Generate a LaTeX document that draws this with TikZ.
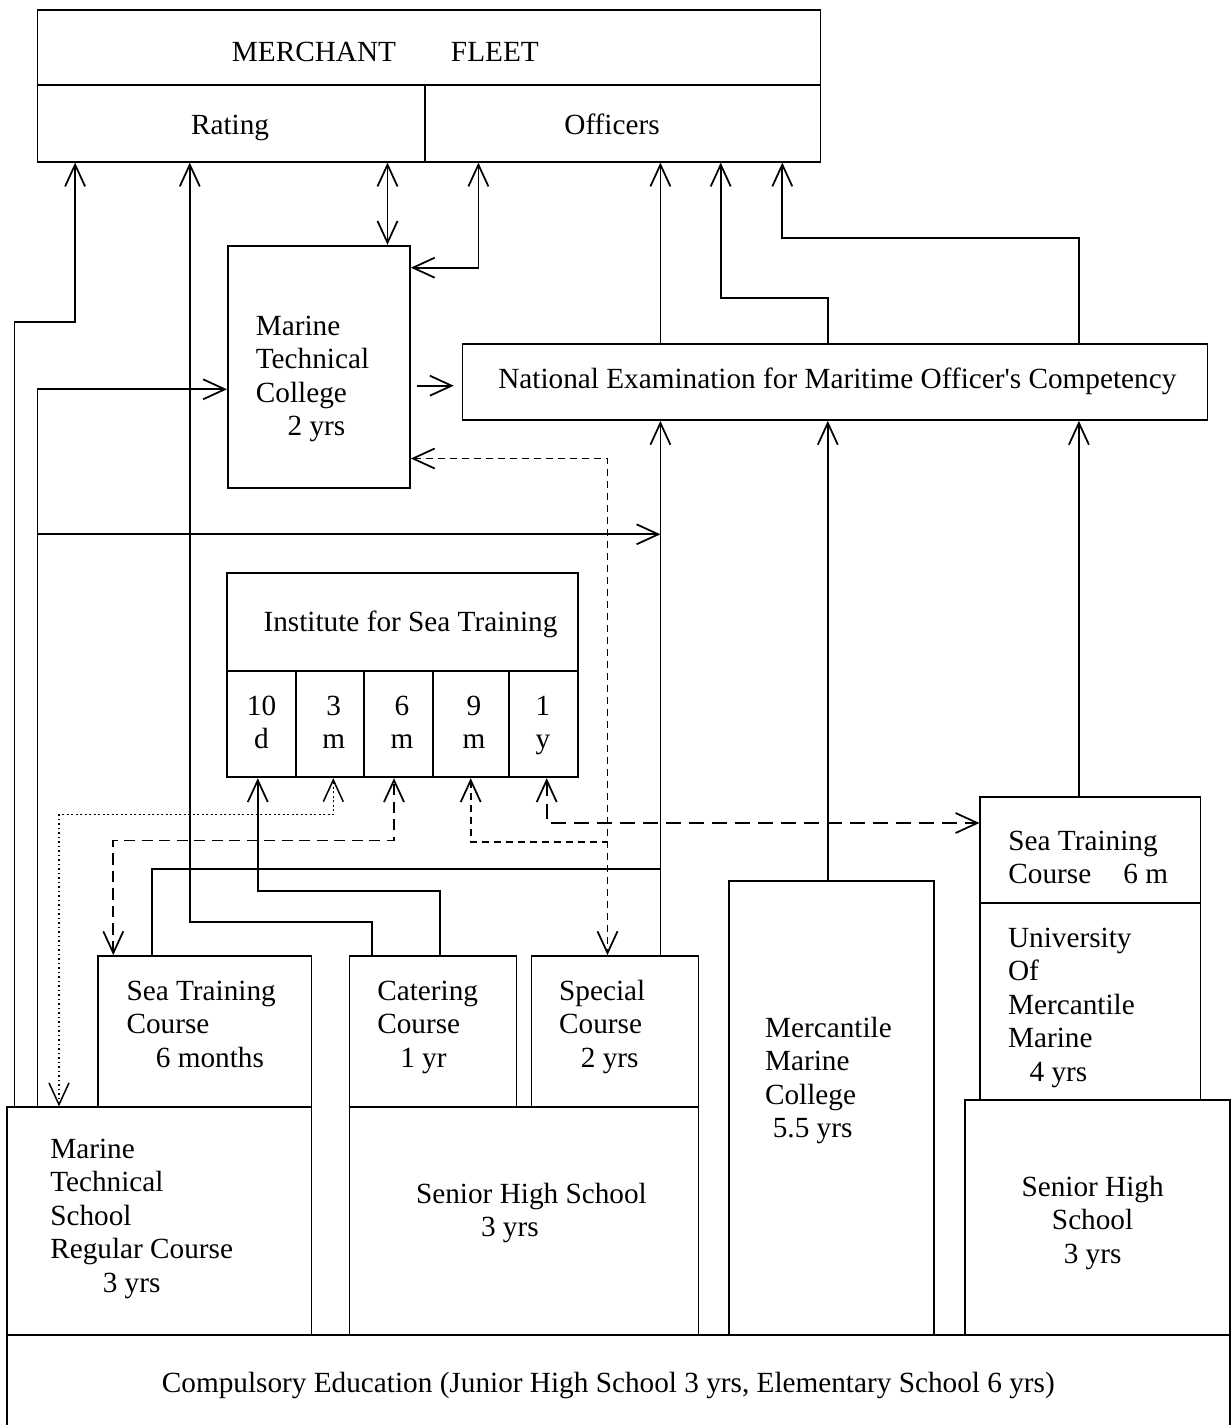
\documentclass[tikz,border=0pt]{standalone}
\usepackage{fontspec}
\setmainfont{Liberation Serif}[Ligatures=TeXOff]
\usetikzlibrary{arrows.meta,fit}
\newcommand\ltab[1]{\begin{tabular}[t]{@{}l@{}}#1\end{tabular}}
\newcommand\ctab[1]{\begin{tabular}[t]{@{}c@{}}#1\end{tabular}}
\begin{document}
\begin{tikzpicture}[x=0.4pt,y=-0.4pt, line width=0.7pt,
  box/.style={draw, inner sep=0pt},
  txt/.style={inner sep=0pt, font=\fontsize{11.7}{13.4}\selectfont, anchor=base west},
  ctxt/.style={txt, anchor=base},
  tip/.tip={Straight Barb[length=8.7pt,width=8pt]},
  arr/.style={-tip},
  arrb/.style={tip-tip},
  arrs/.style={tip-},
  sdash/.style={dash pattern=on 4.5pt off 2.5pt},
  ldash/.style={dash pattern=on 6pt off 3.2pt},
  vdash/.style={dash pattern=on 2.8pt off 2pt},
  dots/.style={line width=0.6pt, dash pattern=on 0.7pt off 1.1pt}]
\useasboundingbox (0,0) rectangle (1231,1425);

% ---------- boxes ----------
\node[box, fit={(37.6,10) (820.5,85)}] (mf) {};
\node[box, fit={(37.6,85) (425,161.7)}] (rating) {};
\node[box, fit={(425,85) (820.5,161.7)}] (officers) {};
\node[box, fit={(227.8,245.7) (410,488.3)}] (mtc) {};
\node[box, fit={(462.6,344.3) (1207.6,420)}] (ne) {};
\node[box, fit={(227.3,572.7) (577.7,671)}] (ist) {};
\node[box, fit={(227.3,671) (296,777.3)}] (c1) {};
\node[box, fit={(296,671) (364.3,777.3)}] (c2) {};
\node[box, fit={(364.3,671) (432.7,777.3)}] (c3) {};
\node[box, fit={(432.7,671) (509.3,777.3)}] (c4) {};
\node[box, fit={(509.3,671) (577.7,777.3)}] (c5) {};
\node[box, fit={(98,956) (311.6,1107.3)}] (stcL) {};
\node[box, fit={(349.5,956) (516.4,1107.3)}] (cat) {};
\node[box, fit={(531.4,956) (698.6,1107.3)}] (spc) {};
\node[box, fit={(7.1,1107.3) (311.6,1335)}] (mts) {};
\node[box, fit={(349.5,1107.3) (698.6,1335)}] (shs) {};
\node[box, fit={(728.8,880.7) (934,1335)}] (mmc) {};
\node[box, fit={(980.3,796.7) (1200.4,902.7)}] (stcR) {};
\node[box, fit={(980.3,902.7) (1200.4,1100)}] (umm) {};
\node[box, fit={(965,1100) (1230,1335)}] (shsR) {};
\node[box, fit={(7.1,1335) (1230,1430)}] (comp) {};

% ---------- texts ----------
\node[txt] (mf-t) at (231,61.7) {MERCHANT\hspace{22pt}FLEET};
\node[ctxt] (rating-t) at (230,135) {Rating};
\node[txt] (officers-t) at (563.5,135) {Officers};
\node[txt] (mtc-t) at (255,335) {\ltab{Marine\\Technical\\College\\\hspace{12.7pt}2 yrs}};
\node[txt] (ne-t) at (497.4,388) {National Examination for Maritime Officer's Competency};
\node[txt] (ist-t) at (262.7,631.7) {Institute for Sea Training};
\node[ctxt] (c1-t) at (261.5,715) {\ctab{10\\d}};
\node[ctxt] (c2-t) at (333.8,715) {\ctab{3\\m}};
\node[ctxt] (c3-t) at (402,715) {\ctab{6\\m}};
\node[ctxt] (c4-t) at (474,715) {\ctab{9\\m}};
\node[ctxt] (c5-t) at (543,715) {\ctab{1\\y}};
\node[txt] (stcL-t) at (125.7,1000) {\ltab{Sea Training\\Course\\\hspace{11.7pt}6 months}};
\node[txt] (cat-t) at (376.4,1000) {\ltab{Catering\\Course\\\hspace{9.2pt}1 yr}};
\node[txt] (spc-t) at (558.3,1000) {\ltab{Special\\Course\\\hspace{8.7pt}2 yrs}};
\node[txt] (mts-t) at (49.4,1158) {\ltab{Marine\\Technical\\School\\Regular Course\\\hspace{21pt}3 yrs}};
\node[txt] (shs-t) at (415.2,1203) {\ltab{Senior High School\\\hspace{26pt}3 yrs}};
\node[txt] (mmc-t) at (764.2,1037) {\ltab{Mercantile\\Marine\\College\\\hspace{3.1pt}5.5 yrs}};
\node[txt] (stcR-t) at (1007.5,850) {\ltab{Sea Training\\Course\hspace{12.9pt}6 m}};
\node[txt] (umm-t) at (1007.2,947) {\ltab{University\\Of\\Mercantile\\Marine\\\hspace{8.6pt}4 yrs}};
\node[ctxt] (shsR-t) at (1092.6,1196) {\ctab{Senior High\\School\\3 yrs}};
\node[txt] (comp-t) at (161,1392) {Compulsory Education (Junior High School 3 yrs, Elementary School 6 yrs)};

% ---------- solid connectors ----------
\draw[arr] (mts.north -| 14.6,0) -- (14.6,321.7) -- (75.1,321.7) -- (rating.south -| 75.1,0);
\draw[arr] (mts.north -| 37.6,0) -- (37.6,389.3) -- (mtc.west |- 0,389.3);
\coordinate (j1) at (660.4,534.3);
\draw[arr] (37.6,534.3) -- (j1);
\draw[arr] (cat.north -| 371.7,0) -- (371.7,922.3) -- (189.8,922.3) -- (rating.south -| 189.8,0);
\draw[arrb] (rating.south -| 387.5,0) -- (mtc.north -| 387.5,0);
\draw[arrb] (mtc.east |- 0,267.7) -- (478.4,267.7) -- (officers.south -| 478.4,0);
\draw[arr, shorten <=2.5pt, shorten >=3.2pt] (mtc.east |- 0,385.7) -- (ne.west |- 0,385.7);
\draw[arr] (ne.north -| 660.4,0) -- (officers.south -| 660.4,0);
\draw[arr] (ne.north -| 827.8,0) -- (827.8,298.3) -- (720.7,298.3) -- (officers.south -| 720.7,0);
\draw[arr] (ne.north -| 1078.9,0) -- (1078.9,237.7) -- (782.3,237.7) -- (officers.south -| 782.3,0);
\draw[arr] (spc.north -| 660.4,0) -- (ne.south -| 660.4,0);
\draw (stcL.north -| 151.7,0) -- (151.7,868.7) -- (660.4,868.7);
\draw[arr] (mmc.north -| 827.8,0) -- (ne.south -| 827.8,0);
\draw[arr] (stcR.north -| 1078.9,0) -- (ne.south -| 1078.9,0);
\draw[arr] (cat.north -| 440.1,0) -- (440.1,891) -- (257.8,891) -- (c1.south -| 257.8,0);

% ---------- dotted / dashed connectors ----------
\draw[arrb, dots] (mts.north -| 59,0) -- (59,814.7) -- (333.3,814.7) -- (c2.south -| 333.3,0);
\draw[arrb, sdash] (stcL.north -| 113.3,0) -- (113.3,840.5) -- (394,840.5) -- (c3.south -| 394,0);
\draw[arrb, vdash] (mtc.east |- 0,458.5) -- (607.5,458.5) -- (spc.north -| 607.5,0);
\draw[arrs, vdash] (c4.south -| 470.7,0) -- (470.7,842.3) -- (607.5,842.3);
\draw[arrb, ldash] (c5.south -| 546.7,0) -- (546.7,823) -- (stcR.west |- 0,823);
\end{tikzpicture}
\end{document}
